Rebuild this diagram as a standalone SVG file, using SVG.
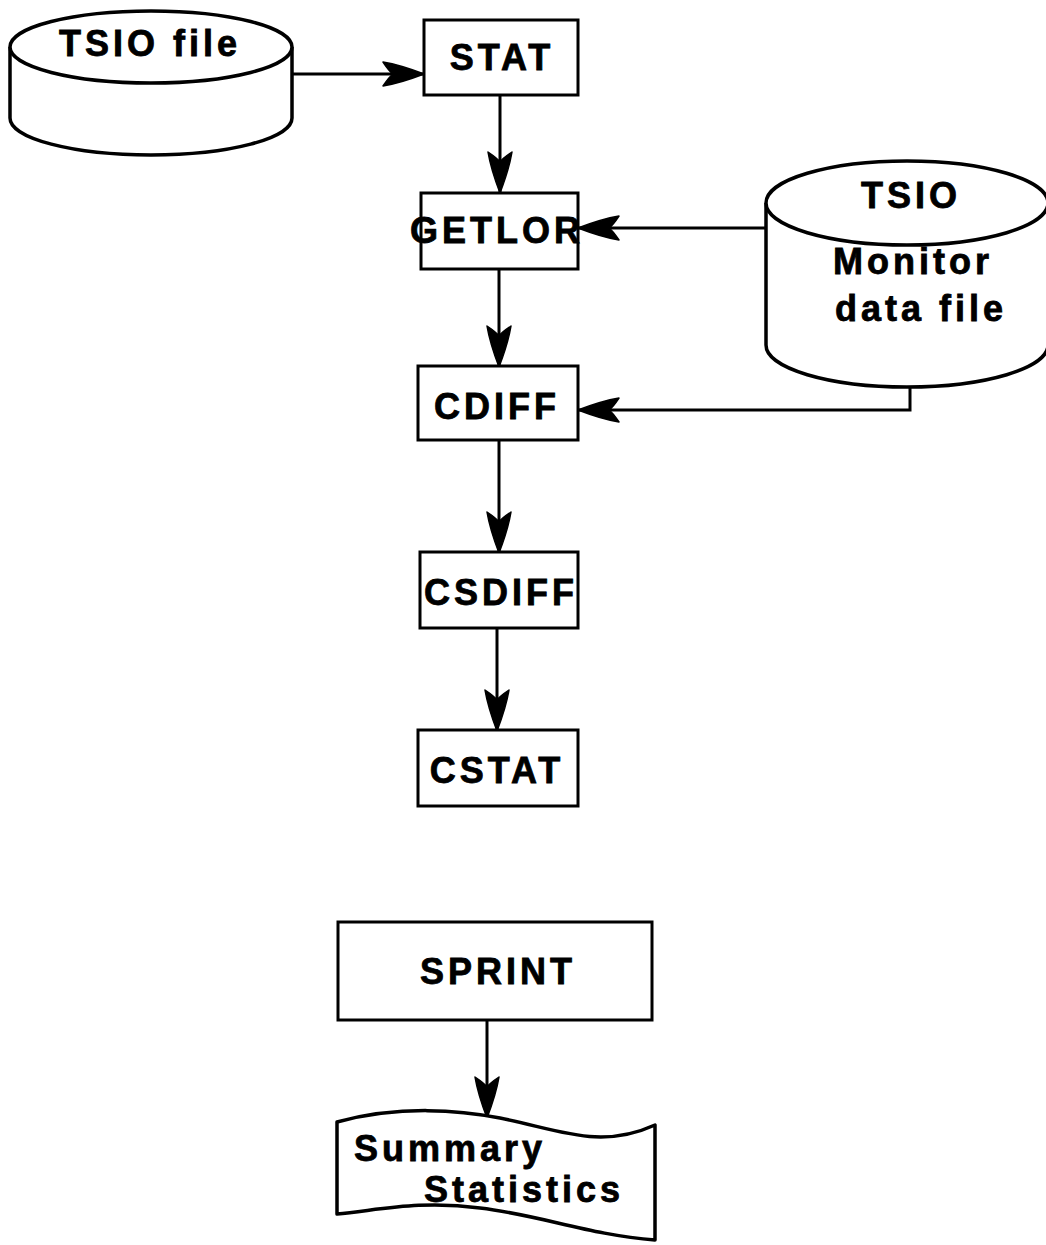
<svg xmlns="http://www.w3.org/2000/svg" width="1046" height="1245" viewBox="0 0 1046 1245">
<style>
.box{fill:#fff;stroke:#000;stroke-width:3}
.shape{fill:#fff;stroke:#000;stroke-width:3.5;stroke-linejoin:round}
.line{fill:none;stroke:#000;stroke-width:3}
.t{font-family:"Liberation Sans",Arial,sans-serif;font-weight:bold;font-size:36px;fill:#000;stroke:#000;stroke-width:0.8;letter-spacing:4px}
</style>
<defs>
<marker id="ah" viewBox="-46 -14 48 28" refX="0" refY="0" markerWidth="48" markerHeight="28" markerUnits="userSpaceOnUse" orient="auto">
<path d="M1,0 C-12,-5 -28,-10 -40,-12 C-36,-6 -33,-2 -30,0 C-33,2 -36,6 -40,12 C-28,10 -12,5 1,0 Z" fill="#000" stroke="#000" stroke-width="1.5" stroke-linejoin="round"/>
</marker>
</defs>
<rect width="1046" height="1245" fill="#fff"/>

<g id="connectors">
<path class="line" d="M292,74 H423" marker-end="url(#ah)"/>
<path class="line" d="M500,95 V192" marker-end="url(#ah)"/>
<path class="line" d="M765,228 H579" marker-end="url(#ah)"/>
<path class="line" d="M499,269 V366" marker-end="url(#ah)"/>
<path class="line" d="M910,387 V410 H579" marker-end="url(#ah)"/>
<path class="line" d="M499,440 V552" marker-end="url(#ah)"/>
<path class="line" d="M497,628 V730" marker-end="url(#ah)"/>
<path class="line" d="M487,1020 V1117" marker-end="url(#ah)"/>
</g>

<g id="tsio-file">
<path class="shape" d="M10,47 V118 A141,37 0 0 0 292,118 V47"/>
<ellipse class="shape" cx="151" cy="47" rx="141" ry="36"/>
<text class="t" x="150" y="56" text-anchor="middle">TSIO file</text>
</g>

<g id="stat">
<rect class="box" x="424" y="20" width="154" height="75"/>
<text class="t" x="502" y="70" text-anchor="middle">STAT</text>
</g>

<g id="getlor">
<rect class="box" x="421" y="193" width="157" height="76"/>
<text class="t" x="497" y="243" text-anchor="middle">GETLOR</text>
</g>

<g id="tsio-monitor">
<path class="shape" d="M766,203 V345 A141,42 0 0 0 1048,345 V203"/>
<ellipse class="shape" cx="907" cy="203" rx="141" ry="42"/>
<text class="t" x="911" y="208" text-anchor="middle">TSIO</text>
<text class="t" x="913" y="274" text-anchor="middle">Monitor</text>
<text class="t" x="921" y="321" text-anchor="middle">data file</text>
</g>

<g id="cdiff">
<rect class="box" x="418" y="366" width="160" height="74"/>
<text class="t" x="497" y="419" text-anchor="middle">CDIFF</text>
</g>

<g id="csdiff">
<rect class="box" x="420" y="552" width="158" height="76"/>
<text class="t" x="501" y="605" text-anchor="middle">CSDIFF</text>
</g>

<g id="cstat">
<rect class="box" x="418" y="730" width="160" height="76"/>
<text class="t" x="497" y="783" text-anchor="middle">CSTAT</text>
</g>

<g id="sprint">
<rect class="box" x="338" y="922" width="314" height="98"/>
<text class="t" x="498" y="984" text-anchor="middle">SPRINT</text>
</g>

<g id="summary">
<path class="shape" d="M337,1122 C400,1105 460,1110 500,1118 C560,1130 600,1150 655,1125 V1240 C590,1235 540,1215 480,1208 C420,1200 380,1210 337,1214 Z"/>
<text class="t" x="354" y="1161">Summary</text>
<text class="t" x="424" y="1202">Statistics</text>
</g>
</svg>
